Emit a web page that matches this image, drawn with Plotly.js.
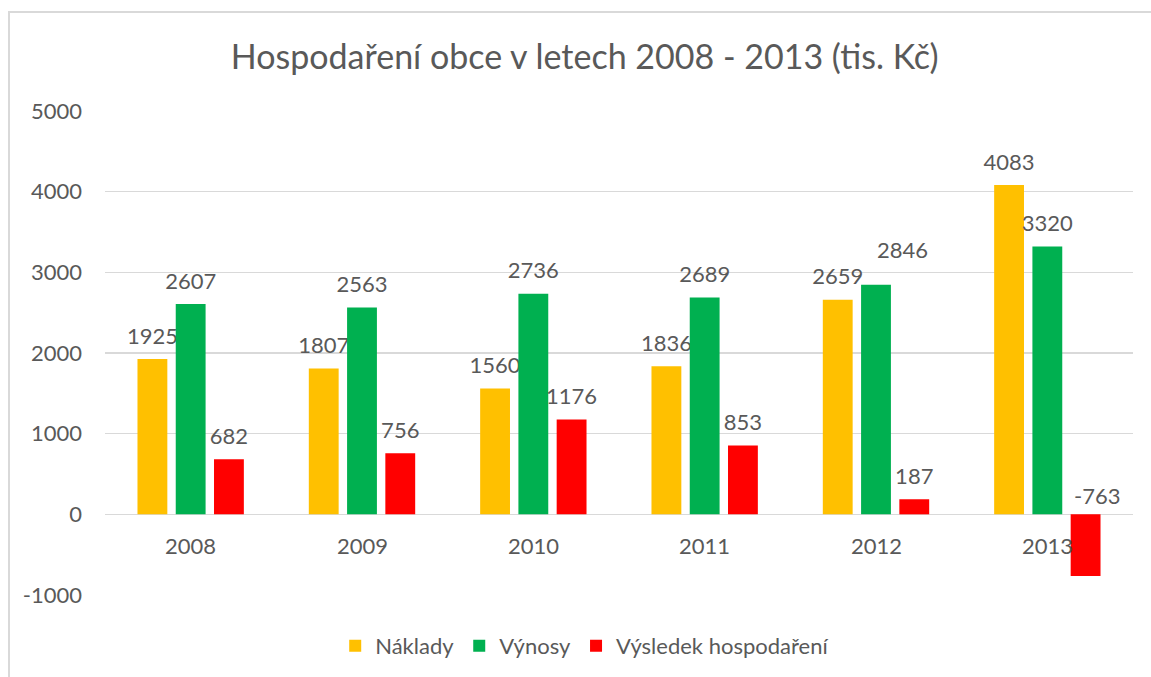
<!DOCTYPE html>
<html>
<head>
<meta charset="utf-8">
<script src="https://cdn.plot.ly/plotly-3.0.1.min.js"></script>
<style>
  html, body { margin: 0; padding: 0; background: #fff; }
  #chart { width: 1151px; height: 677px; }
  #frame { position: absolute; left: 8px; top: 11px; width: 1160px; height: 700px;
           border-left: 2px solid #D9D9D9; border-top: 2px solid #D9D9D9; pointer-events: none; }
</style>
</head>
<body>
<div id="chart"></div>
<div id="frame"></div>
<script>
const years = ['2008', '2009', '2010', '2011', '2012', '2013'];
const naklady = [1925, 1807, 1560, 1836, 2659, 4083];
const vynosy = [2607, 2563, 2736, 2689, 2846, 3320];
const vysledek = [682, 756, 1176, 853, 187, -763];
const seriesNames = ['Náklady', 'Výnosy', 'Výsledek hospodaření'];
const colors = ['#FFC000', '#00B050', '#FF0000'];
const yTicks = [-1000, 0, 1000, 2000, 3000, 4000, 5000];

const FONT = 'Lato, "Open Sans", sans-serif';
const labelFont = { family: FONT, size: 22, color: '#595959' };

// labels moved aside (as in the reference) instead of sitting on the bar end
const nudged = [{ series: 1, idx: 4, dx: 26, dy: 20 }];
const isNudged = (s, i) => nudged.some(n => n.series === s && n.idx === i);

function barTrace(vals, s) {
  return {
    type: 'bar',
    name: seriesNames[s],
    x: years,
    y: vals,
    marker: { color: colors[s] },
    text: vals.map((v, i) => (v < 0 || isNudged(s, i)) ? '' : String(v)),
    // small invisible second line lifts the label slightly above the bar end
    texttemplate: '<span style="font-size:22px">%{text}</span><br><span style="color:rgba(0,0,0,0)">.</span>',
    textposition: 'outside',
    textfont: { family: FONT, size: 8, color: '#595959' },
    constraintext: 'none',
    cliponaxis: false,
    hoverinfo: 'x+y'
  };
}

const allSeries = [naklady, vynosy, vysledek];
const traces = allSeries.map((vals, s) => barTrace(vals, s));

const annotations = [];
// category labels sit just below the zero line, as in the reference
years.forEach((yr, idx) => {
  annotations.push({
    x: idx, y: 0, xref: 'x', yref: 'y',
    text: yr, showarrow: false,
    xanchor: 'center', yanchor: 'top', yshift: -16,
    font: { family: FONT, size: 22, color: '#595959' }
  });
});
// labels for negative values are drawn above the zero line
vysledek.forEach((v, idx) => {
  if (v < 0) {
    annotations.push({
      x: idx, y: 0, xref: 'x', yref: 'y',
      text: String(v), showarrow: false,
      xanchor: 'center', yanchor: 'bottom', xshift: 50, yshift: 3,
      font: labelFont
    });
  }
});
nudged.forEach(n => {
  annotations.push({
    x: n.idx, y: allSeries[n.series][n.idx], xref: 'x', yref: 'y',
    text: String(allSeries[n.series][n.idx]), showarrow: false,
    xanchor: 'center', yanchor: 'bottom', xshift: n.dx, yshift: n.dy,
    font: labelFont
  });
});

const layout = {
  width: 1151, height: 677,
  paper_bgcolor: '#fff', plot_bgcolor: '#fff',
  margin: { l: 105, r: 18, t: 111, b: 82, autoexpand: false },
  title: {
    text: 'Hospodaření obce v letech 2008 - 2013 (tis. Kč)',
    font: { family: FONT, size: 34, color: '#595959' },
    x: 0.508, xanchor: 'center', y: 0.915, yanchor: 'middle'
  },
  barmode: 'group',
  bargap: 0.33,
  bargroupgap: 0.22,
  xaxis: {
    type: 'category',
    categoryorder: 'array',
    categoryarray: years,
    range: [-0.5, years.length - 0.5],
    autorange: false,
    showgrid: false,
    showline: false,
    zeroline: false,
    ticks: '',
    showticklabels: false
  },
  yaxis: {
    range: [-1000, 5000],
    autorange: false,
    tickvals: yTicks,
    ticktext: yTicks.map(String),
    showgrid: true,
    gridcolor: '#D9D9D9',
    gridwidth: 1.5,
    zeroline: true,
    zerolinecolor: '#D9D9D9',
    zerolinewidth: 1.5,
    showline: false,
    ticks: '',
    ticklabelstandoff: 22,
    tickfont: { family: FONT, size: 22, color: '#595959' }
  },
  legend: {
    orientation: 'h',
    xref: 'container', yref: 'container',
    x: 0.508, xanchor: 'center',
    y: 0.046, yanchor: 'middle',
    font: { family: FONT, size: 22, color: '#595959' },
    itemwidth: 30,
    traceorder: 'normal'
  },
  annotations: annotations,
  showlegend: true
};

Plotly.newPlot('chart', traces, layout, { displayModeBar: false, staticPlot: true });
</script>
</body>
</html>
